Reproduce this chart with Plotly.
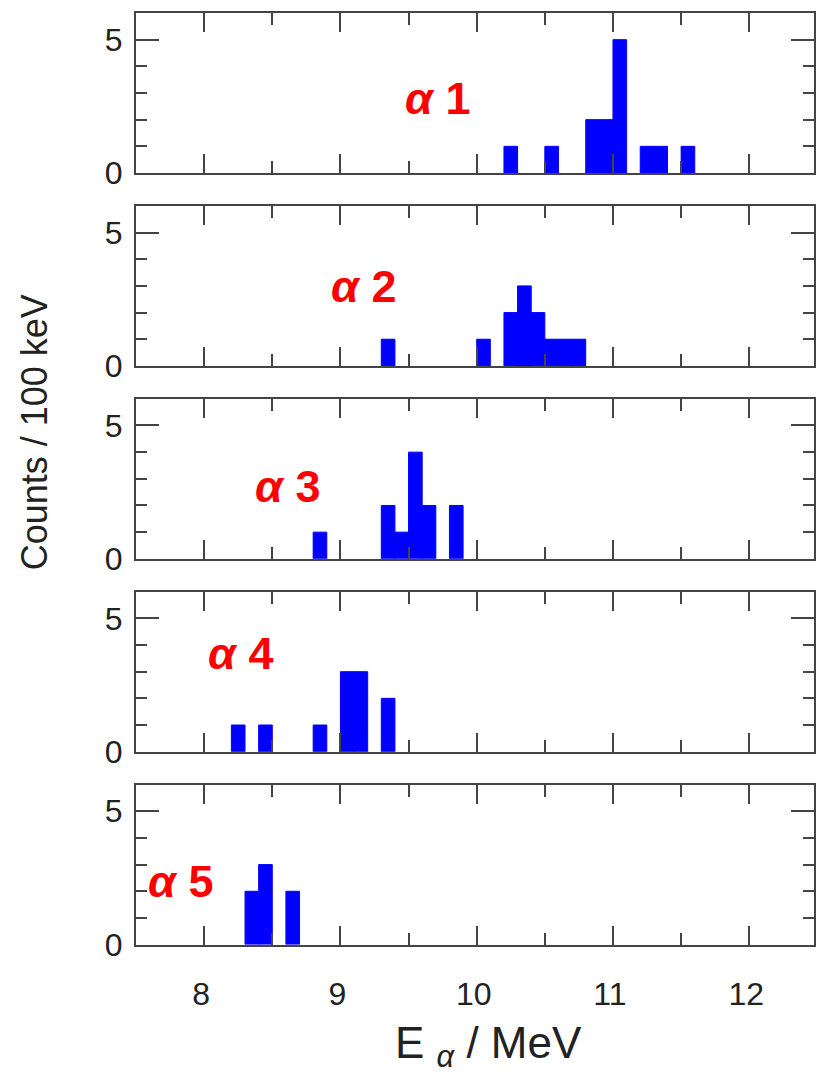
import plotly.graph_objects as go

# Alpha-decay energy histograms, 100 keV bins (bin centres in MeV, counts per bin)
alpha1_energy = [10.25, 10.55, 10.85, 10.95, 11.05, 11.25, 11.35, 11.55]
alpha1_counts = [1, 1, 2, 2, 5, 1, 1, 1]

alpha2_energy = [9.35, 10.05, 10.25, 10.35, 10.45, 10.55, 10.65, 10.75]
alpha2_counts = [1, 1, 2, 3, 2, 1, 1, 1]

alpha3_energy = [8.85, 9.35, 9.45, 9.55, 9.65, 9.85]
alpha3_counts = [1, 2, 1, 4, 2, 2]

alpha4_energy = [8.25, 8.45, 8.85, 9.05, 9.15, 9.35]
alpha4_counts = [1, 1, 1, 3, 3, 2]

alpha5_energy = [8.35, 8.45, 8.65]
alpha5_counts = [2, 3, 2]

panel_names = ["α 1", "α 2", "α 3", "α 4", "α 5"]
# label anchor (energy, counts) inside each panel
label_x = [9.71, 9.17, 8.61, 8.27, 7.83]
label_y = [2.8, 2.96, 2.72, 3.69, 2.38]

x_ticks = [8, 9, 10, 11, 12]
bin_width = 0.1

energies = [alpha1_energy, alpha2_energy, alpha3_energy, alpha4_energy, alpha5_energy]
counts = [alpha1_counts, alpha2_counts, alpha3_counts, alpha4_counts, alpha5_counts]

W, H = 816, 1077
M_L, M_R, M_T, M_B = 136, 0, 13, 132
plot_h = H - M_T - M_B
panel_h = 160.0
pitch = 192.9

FONT = "Arial, Liberation Sans, sans-serif"
AX_COL = "#444444"
TXT_COL = "#222222"

fig = go.Figure()
layout = dict(
    width=W, height=H,
    margin=dict(l=M_L, r=M_R, t=M_T, b=M_B),
    paper_bgcolor="white", plot_bgcolor="white",
    showlegend=False,
    font=dict(family=FONT, color=TXT_COL),
)

annotations = []
n = len(energies)
for i in range(n):
    k = "" if i == 0 else str(i + 1)
    top_px = M_T + i * pitch
    bot_px = top_px + panel_h
    d0 = (M_T + plot_h - bot_px) / plot_h
    d1 = (M_T + plot_h - top_px) / plot_h

    fig.add_trace(go.Bar(
        x=energies[i], y=counts[i], width=bin_width,
        marker=dict(color="#0000ff", line=dict(color="#0000ff", width=1)),
        xaxis="x" + k, yaxis="y" + k,
    ))

    layout["xaxis" + k] = dict(
        domain=[0, 1], anchor="y" + k, range=[7.5, 12.475],
        tickmode="array", tickvals=x_ticks,
        ticks="inside", ticklen=19, tickwidth=2, tickcolor=AX_COL,
        minor=dict(tickmode="linear", tick0=7.5, dtick=0.5, ticks="inside",
                   ticklen=12, tickwidth=2, tickcolor=AX_COL),
        showline=True, linecolor=AX_COL, linewidth=2, mirror="ticks",
        showgrid=False, zeroline=False,
        showticklabels=(i == n - 1),
        tickfont=dict(size=32, family=FONT, color=TXT_COL),
        ticklabelstandoff=20, ticklabelshift=-3,
    )
    layout["yaxis" + k] = dict(
        domain=[d0, d1], anchor="x" + k, range=[0, 6],
        tickmode="linear", tick0=0, dtick=5,
        ticks="inside", ticklen=23, tickwidth=2, tickcolor=AX_COL,
        minor=dict(tickmode="linear", tick0=0, dtick=1, ticks="inside",
                   ticklen=11, tickwidth=2, tickcolor=AX_COL),
        showline=True, linecolor=AX_COL, linewidth=2, mirror="ticks",
        showgrid=False, zeroline=False,
        tickfont=dict(size=32, family=FONT, color=TXT_COL),
        ticklabelstandoff=5,
    )

    annotations.append(dict(
        x=label_x[i], y=label_y[i], xref="x" + k, yref="y" + k,
        text="<b><i>α</i> " + panel_names[i].split(" ")[1] + "</b>",
        showarrow=False, xanchor="center", yanchor="middle",
        font=dict(size=45, family=FONT, color="#ff0000"),
    ))

# axis titles
annotations.append(dict(
    x=(34 - M_L) / (W - M_L - M_R), y=(M_T + plot_h - 432) / plot_h,
    xref="paper", yref="paper", text="Counts / 100 keV", textangle=-90,
    showarrow=False, xanchor="center", yanchor="middle",
    font=dict(size=36, family=FONT, color=TXT_COL),
))
annotations.append(dict(
    x=(490 - M_L) / (W - M_L - M_R), y=(M_T + plot_h - 1046) / plot_h,
    xref="paper", yref="paper", text="E <sub><i>α</i></sub> / MeV",
    showarrow=False, xanchor="center", yanchor="middle",
    font=dict(size=44, family=FONT, color=TXT_COL),
))

layout["annotations"] = annotations
fig.update_layout(**layout)
fig.write_html("out.html")
